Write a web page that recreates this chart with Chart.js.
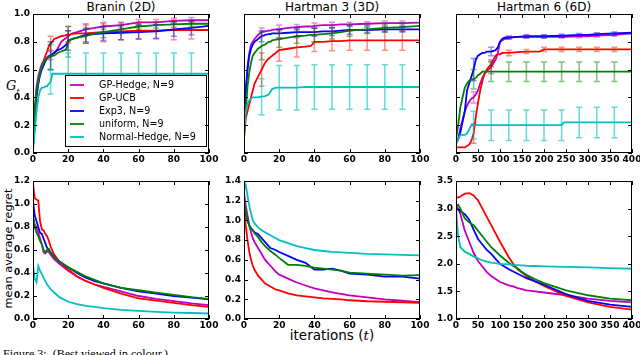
<!DOCTYPE html>
<html>
<head>
<meta charset="utf-8">
<script src="https://cdn.jsdelivr.net/npm/chart.js@4.4.0/dist/chart.umd.min.js"></script>
<style>
  body { margin: 0; width: 640px; height: 355px; overflow: hidden; background: #fff; position: relative; font-family: "DejaVu Sans", sans-serif; }
  canvas { position: absolute; }
  .txt { position: absolute; white-space: nowrap; color: #000; }
  .ttl { top: 0; width: 200px; text-align: center; font-size: 12px; line-height: 14px; }
</style>
</head>
<body>
<div class="txt ttl" style="left:21px">Branin (2D)</div>
<div class="txt ttl" style="left:232px">Hartman 3 (3D)</div>
<div class="txt ttl" style="left:444px">Hartman 6 (6D)</div>
<div class="txt" style="left:6px;top:78px;font-size:13px;font-style:italic;font-family:'DejaVu Serif'">G<sub style="font-size:8px">t</sub></div>
<div class="txt" style="left:-52px;top:242px;width:120px;text-align:center;font-size:11.3px;transform:rotate(-90deg)">mean average regret</div>
<div class="txt" style="left:262px;top:327px;width:140px;text-align:center;font-size:13.5px">iterations (<i style="font-family:'DejaVu Serif'">t</i>)</div>
<div class="txt" style="left:3px;top:347px;font-size:12px;font-family:'Liberation Serif'">Figure 3:&nbsp; (Best viewed in colour.)</div>

<script>
// series order: GP-Hedge, GP-UCB, Exp3, uniform, Normal-Hedge
const names = ['GP-Hedge, N=9', 'GP-UCB', 'Exp3, N=9', 'uniform, N=9', 'Normal-Hedge, N=9'];
const colors = ['#bf00bf', '#ff0000', '#0000ff', '#008000', '#00bfbf'];
const errColors = ['rgba(191,0,191,0.45)', 'rgba(255,0,0,0.45)', 'rgba(0,0,255,0.45)', 'rgba(0,128,0,0.5)', 'rgba(0,191,191,0.6)'];

// ---- top row: gap measure G_t ----
const braninX       = [0,1,2,3,4,5,6,7,8,9,10,11,12,14,16,18,19,20,22,25,30,35,40,50,60,70,80,90,100];
const braninHedge   = [0.05,0.3,0.48,0.55,0.6,0.64,0.66,0.68,0.69,0.7,0.7,0.71,0.72,0.75,0.8,0.82,0.83,0.84,0.86,0.87,0.89,0.9,0.91,0.92,0.94,0.94,0.95,0.955,0.955];
const braninUcb     = [0.05,0.25,0.4,0.5,0.58,0.62,0.66,0.7,0.73,0.77,0.79,0.8,0.82,0.83,0.84,0.845,0.85,0.85,0.855,0.86,0.86,0.865,0.87,0.875,0.88,0.88,0.885,0.885,0.885];
const braninExp3    = [0.05,0.3,0.42,0.5,0.56,0.6,0.63,0.66,0.68,0.69,0.7,0.71,0.72,0.74,0.75,0.77,0.78,0.81,0.82,0.83,0.85,0.855,0.86,0.865,0.87,0.875,0.89,0.9,0.915];
const braninUniform = [0.05,0.3,0.45,0.52,0.58,0.62,0.65,0.67,0.68,0.69,0.69,0.7,0.7,0.72,0.73,0.74,0.75,0.8,0.82,0.83,0.84,0.86,0.87,0.89,0.91,0.92,0.925,0.93,0.93];
const braninNormal  = [0.02,0.15,0.3,0.4,0.45,0.47,0.47,0.48,0.48,0.5,0.51,0.57,0.57,0.57,0.57,0.57,0.57,0.57,0.57,0.57,0.57,0.57,0.57,0.57,0.57,0.57,0.57,0.57,0.57];
const braninErrX    = [10,20,30,40,50,60,70,80,90];
const braninErrs = [
  [0.03,0.04,0.03,0.02,0.02,0.02,0.02,0.02,0.02],
  [0.05,0.06,0.07,0.07,0.06,0.06,0.06,0.07,0.065],
  [0.1,0.07,0.05,0.05,0.05,0.05,0.05,0.05,0.05],
  [0.09,0.11,0.05,0.04,0.03,0.02,0.02,0.02,0.02],
  [0.085,0.15,0.15,0.15,0.15,0.15,0.15,0.15,0.15]
];

const h3X       = [0,1,2,3,4,5,6,8,10,12,14,15,16,18,20,25,30,35,38,40,45,50,55,60,70,80,90,100];
const h3Hedge   = [0.15,0.45,0.62,0.72,0.78,0.8,0.82,0.85,0.87,0.875,0.88,0.88,0.885,0.89,0.89,0.9,0.905,0.91,0.91,0.915,0.92,0.92,0.925,0.925,0.93,0.935,0.935,0.938];
const h3Ucb     = [0.12,0.25,0.3,0.35,0.4,0.45,0.5,0.55,0.6,0.65,0.68,0.69,0.7,0.72,0.74,0.75,0.76,0.765,0.77,0.8,0.8,0.805,0.805,0.81,0.81,0.81,0.81,0.81];
const h3Exp3    = [0.2,0.45,0.6,0.7,0.75,0.78,0.8,0.82,0.84,0.85,0.855,0.855,0.86,0.86,0.86,0.865,0.87,0.87,0.87,0.87,0.875,0.875,0.88,0.885,0.885,0.89,0.89,0.89];
const h3Uniform = [0.1,0.3,0.48,0.58,0.65,0.7,0.72,0.75,0.77,0.78,0.8,0.8,0.81,0.815,0.82,0.83,0.84,0.845,0.85,0.85,0.855,0.86,0.87,0.88,0.89,0.9,0.905,0.915];
const h3Normal  = [0.15,0.3,0.35,0.38,0.39,0.4,0.4,0.4,0.405,0.41,0.42,0.44,0.46,0.47,0.47,0.47,0.47,0.475,0.475,0.475,0.475,0.475,0.475,0.475,0.475,0.475,0.475,0.475];
const h3ErrX    = [10,20,30,40,50,60,70,80,90];
const h3Errs = [
  [0.03,0.03,0.02,0.02,0.02,0.015,0.015,0.015,0.015],
  [0.12,0.08,0.07,0.07,0.07,0.07,0.07,0.07,0.07],
  [0.04,0.03,0.03,0.03,0.03,0.03,0.02,0.02,0.02],
  [0.1,0.06,0.05,0.05,0.04,0.04,0.03,0.03,0.03],
  [0.13,0.16,0.16,0.16,0.16,0.16,0.16,0.16,0.16]
];

const h6X       = [0,5,10,20,25,30,35,40,45,50,55,60,65,70,80,90,95,100,105,110,120,140,160,190,200,240,245,280,300,320,360,400];
const h6Hedge   = [0.08,0.1,0.18,0.3,0.34,0.37,0.39,0.4,0.42,0.45,0.5,0.54,0.57,0.59,0.62,0.67,0.72,0.8,0.81,0.82,0.83,0.835,0.835,0.835,0.835,0.835,0.835,0.84,0.84,0.845,0.85,0.86];
const h6Ucb     = [0.04,0.04,0.04,0.04,0.05,0.06,0.09,0.14,0.26,0.36,0.45,0.52,0.57,0.6,0.64,0.7,0.71,0.71,0.72,0.72,0.72,0.725,0.73,0.73,0.745,0.745,0.745,0.745,0.745,0.745,0.745,0.745];
const h6Exp3    = [0.07,0.1,0.15,0.3,0.45,0.5,0.55,0.6,0.67,0.7,0.71,0.72,0.72,0.73,0.73,0.74,0.76,0.8,0.82,0.83,0.83,0.835,0.84,0.84,0.84,0.845,0.845,0.85,0.85,0.855,0.86,0.865];
const h6Uniform = [0.1,0.2,0.33,0.47,0.5,0.52,0.53,0.53,0.54,0.56,0.57,0.585,0.585,0.585,0.585,0.585,0.585,0.585,0.585,0.585,0.585,0.585,0.585,0.585,0.585,0.585,0.585,0.585,0.585,0.585,0.585,0.585];
const h6Normal  = [0.06,0.1,0.13,0.13,0.14,0.17,0.2,0.2,0.2,0.2,0.2,0.2,0.2,0.2,0.2,0.2,0.2,0.2,0.2,0.2,0.2,0.2,0.2,0.2,0.2,0.2,0.22,0.22,0.22,0.22,0.22,0.22];
const h6ErrX    = [40,80,120,160,200,240,280,320,360];
const h6Errs = [
  [0.04,0.05,0.01,0.01,0.01,0.01,0.01,0.01,0.01],
  [0.07,0.02,0.02,0.015,0.015,0.015,0.015,0.015,0.015],
  [0.08,0.03,0.01,0.01,0.01,0.01,0.01,0.01,0.01],
  [0.07,0.07,0.07,0.07,0.07,0.07,0.07,0.07,0.07],
  [0.1,0.11,0.11,0.11,0.11,0.11,0.11,0.11,0.11]
];

// ---- bottom row: mean average regret ----
const rBraninX       = [0,1,2,3,4,5,6,7,8,9,10,12,15,20,25,30,35,40,50,60,70,80,90,100];
const rBraninHedge   = [0.88,0.82,0.8,0.75,0.7,0.65,0.58,0.57,0.59,0.58,0.56,0.52,0.48,0.42,0.37,0.33,0.3,0.28,0.24,0.2,0.175,0.155,0.135,0.12];
const rBraninUcb     = [1.18,1.05,1.04,1.03,0.85,0.78,0.77,0.74,0.72,0.68,0.63,0.56,0.5,0.43,0.37,0.33,0.3,0.27,0.22,0.18,0.16,0.14,0.12,0.105];
const rBraninExp3    = [1.02,0.9,0.85,0.8,0.75,0.74,0.7,0.66,0.62,0.6,0.58,0.54,0.5,0.45,0.4,0.36,0.33,0.31,0.27,0.24,0.22,0.2,0.185,0.17];
const rBraninUniform = [0.9,0.8,0.75,0.72,0.68,0.65,0.6,0.58,0.6,0.61,0.58,0.54,0.5,0.45,0.41,0.37,0.34,0.31,0.27,0.25,0.23,0.21,0.19,0.175];
const rBraninNormal  = [0.47,0.35,0.32,0.46,0.42,0.39,0.36,0.33,0.3,0.28,0.26,0.23,0.19,0.15,0.13,0.115,0.105,0.095,0.08,0.07,0.062,0.056,0.052,0.048];

const rH3X       = [0,1,2,3,4,5,6,7,8,10,12,15,18,20,25,30,35,40,45,50,55,60,70,80,90,100];
const rH3Hedge   = [1.28,1.15,1.05,0.95,0.88,0.82,0.78,0.75,0.72,0.66,0.6,0.54,0.48,0.45,0.41,0.37,0.34,0.31,0.29,0.27,0.255,0.24,0.22,0.2,0.185,0.17];
const rH3Ucb     = [1.15,0.95,0.8,0.68,0.6,0.54,0.5,0.47,0.44,0.4,0.36,0.33,0.3,0.29,0.26,0.24,0.23,0.22,0.21,0.205,0.2,0.19,0.18,0.175,0.17,0.165];
const rH3Exp3    = [1.15,1.08,1.0,0.95,0.92,0.9,0.88,0.87,0.86,0.82,0.78,0.72,0.7,0.68,0.64,0.6,0.57,0.5,0.5,0.51,0.49,0.46,0.45,0.43,0.43,0.41];
const rH3Uniform = [1.2,1.1,1.0,0.95,0.92,0.9,0.87,0.85,0.83,0.78,0.74,0.69,0.65,0.62,0.55,0.55,0.54,0.52,0.51,0.5,0.49,0.47,0.46,0.45,0.44,0.445];
const rH3Normal  = [1.3,1.36,1.25,1.15,1.07,1.0,0.97,0.95,0.93,0.9,0.88,0.85,0.82,0.8,0.77,0.74,0.72,0.7,0.69,0.68,0.675,0.67,0.66,0.655,0.65,0.645];

const rH6X       = [0,5,10,20,30,40,50,60,70,80,100,120,130,140,150,160,180,200,250,300,350,400];
const rH6Hedge   = [3.05,3.0,2.9,2.6,2.4,2.2,2.05,1.95,1.85,1.78,1.67,1.61,1.59,1.56,1.54,1.52,1.5,1.48,1.43,1.37,1.33,1.3];
const rH6Ucb     = [3.22,3.2,3.22,3.27,3.28,3.24,3.15,3.0,2.85,2.7,2.4,2.12,2.0,1.9,1.84,1.78,1.68,1.6,1.42,1.3,1.22,1.17];
const rH6Exp3    = [3.0,2.98,2.95,2.9,2.8,2.62,2.45,2.35,2.25,2.18,2.0,1.9,1.86,1.82,1.78,1.74,1.68,1.62,1.45,1.33,1.26,1.22];
const rH6Uniform = [3.05,3.07,3.0,2.82,2.75,2.7,2.6,2.5,2.4,2.3,2.15,2.02,1.96,1.92,1.85,1.8,1.72,1.65,1.52,1.43,1.37,1.34];
const rH6Normal  = [3.0,2.5,2.3,2.22,2.18,2.13,2.1,2.06,2.04,2.02,2.0,1.99,1.98,1.975,1.97,1.965,1.96,1.955,1.945,1.935,1.92,1.91];

const tickFont = { family: 'DejaVu Sans', size: 9, weight: 'bold' };

// error bars drawn through the chart's own scales
const errorBars = {
  id: 'errorBars',
  afterDatasetsDraw(chart, args, opts) {
    const xs = opts.xs || [];
    if (!xs.length) return;
    const { ctx, scales: { x, y } } = chart;
    ctx.save();
    ctx.lineWidth = 1.5;
    chart.data.datasets.forEach(ds => {
      if (!ds.errs) return;
      ctx.strokeStyle = ds.errColor;
      xs.forEach((ex, j) => {
        const pt = ds.data.find(p => p.x === ex);
        if (!pt) return;
        const px = x.getPixelForValue(ex);
        const top = y.getPixelForValue(pt.y + ds.errs[j]);
        const bot = y.getPixelForValue(pt.y - ds.errs[j]);
        ctx.beginPath();
        ctx.moveTo(px, top); ctx.lineTo(px, bot);
        ctx.moveTo(px - 3, top); ctx.lineTo(px + 3, top);
        ctx.moveTo(px - 3, bot); ctx.lineTo(px + 3, bot);
        ctx.stroke();
      });
    });
    ctx.restore();
  }
};

const boxLegend = {
  id: 'boxLegend',
  afterDatasetsDraw(chart, args, opts) {
    if (!opts.show) return;
    const { ctx, chartArea: a } = chart;
    const x0 = a.left + 32, y0 = a.top + 61, x1 = a.right - 2, y1 = a.bottom - 6;
    ctx.save();
    ctx.fillStyle = '#fff';
    ctx.fillRect(x0, y0, x1 - x0, y1 - y0);
    ctx.strokeStyle = '#000';
    ctx.lineWidth = 1;
    ctx.strokeRect(x0 + 0.5, y0 + 0.5, x1 - x0 - 1, y1 - y0 - 1);
    ctx.font = '9.6px "DejaVu Sans"';
    ctx.textBaseline = 'middle';
    chart.data.datasets.forEach((ds, i) => {
      const yy = y0 + 10 + i * 13;
      ctx.strokeStyle = ds.borderColor;
      ctx.lineWidth = 1.8;
      ctx.beginPath();
      ctx.moveTo(a.left + 37, yy); ctx.lineTo(a.left + 51, yy);
      ctx.stroke();
      ctx.fillStyle = '#000';
      ctx.fillText(ds.label, a.left + 66, yy);
    });
    ctx.restore();
  }
};

// black frame and inward ticks, matplotlib style
const frame = {
  id: 'frame',
  afterDraw(chart) {
    const { ctx, chartArea: a, scales: { x, y } } = chart;
    ctx.save();
    ctx.strokeStyle = '#000';
    ctx.lineWidth = 1;
    ctx.beginPath();
    x.ticks.forEach(t => {
      const px = Math.round(x.getPixelForValue(t.value)) + 0.5;
      ctx.moveTo(px, a.bottom); ctx.lineTo(px, a.bottom - 4);
      ctx.moveTo(px, a.top); ctx.lineTo(px, a.top + 4);
    });
    y.ticks.forEach(t => {
      const py = Math.round(y.getPixelForValue(t.value)) + 0.5;
      ctx.moveTo(a.left, py); ctx.lineTo(a.left + 4, py);
      ctx.moveTo(a.right, py); ctx.lineTo(a.right - 4, py);
    });
    ctx.stroke();
    ctx.strokeRect(Math.round(a.left) + 0.5, Math.round(a.top) + 0.5, Math.round(a.width) - 1, Math.round(a.height) - 1);
    ctx.restore();
  }
};

function makePanel(p) {
  const cv = document.createElement('canvas');
  const left = p.L - 33, top = p.T - 14;
  const w = p.R - left + 12, h = p.B - top + 16;
  cv.width = w; cv.height = h;
  cv.style.left = left + 'px'; cv.style.top = top + 'px';
  cv.style.width = w + 'px'; cv.style.height = h + 'px';
  document.body.appendChild(cv);
  const datasets = p.ys.map((ys, i) => ({
    label: names[i],
    data: ys.map((v, k) => ({ x: p.xs[k], y: v })),
    borderColor: colors[i],
    borderWidth: 1.8,
    pointRadius: 0,
    tension: 0,
    fill: false,
    order: 4 - i,
    errs: p.errs ? p.errs[i] : null,
    errColor: errColors[i]
  }));
  new Chart(cv, {
    type: 'line',
    data: { datasets },
    options: {
      responsive: false,
      animation: false,
      events: [],
      layout: { padding: { top: 14, left: 0, right: 12, bottom: 0 } },
      plugins: {
        legend: { display: false },
        tooltip: { enabled: false },
        errorBars: { xs: p.errX || [] },
        boxLegend: { show: !!p.legend }
      },
      scales: {
        x: {
          type: 'linear', min: 0, max: p.xMax,
          grid: { display: false, drawTicks: false }, border: { display: false },
          ticks: { stepSize: p.xStep, font: tickFont, color: '#000', padding: 1, maxRotation: 0, autoSkip: false },
          afterFit: s => { s.height = 16; }
        },
        y: {
          type: 'linear', min: p.yMin, max: p.yMax,
          grid: { display: false, drawTicks: false }, border: { display: false },
          ticks: { stepSize: p.yStep, font: tickFont, color: '#000', padding: 3,
                   callback: v => p.yLabels ? v.toFixed(1) : '' },
          afterFit: s => { s.width = 33; }
        }
      }
    },
    plugins: [errorBars, boxLegend, frame]
  });
}

const cols = [[33, 209], [244, 420], [456, 632]];

makePanel({ L: cols[0][0], R: cols[0][1], T: 14, B: 153, xMax: 100, xStep: 20, yMin: 0, yMax: 1, yStep: 0.2, yLabels: true, legend: true,
  xs: braninX, ys: [braninHedge, braninUcb, braninExp3, braninUniform, braninNormal], errX: braninErrX, errs: braninErrs });
makePanel({ L: cols[1][0], R: cols[1][1], T: 14, B: 153, xMax: 100, xStep: 20, yMin: 0, yMax: 1, yStep: 0.2, yLabels: false,
  xs: h3X, ys: [h3Hedge, h3Ucb, h3Exp3, h3Uniform, h3Normal], errX: h3ErrX, errs: h3Errs });
makePanel({ L: cols[2][0], R: cols[2][1], T: 14, B: 153, xMax: 400, xStep: 50, yMin: 0, yMax: 1, yStep: 0.2, yLabels: false,
  xs: h6X, ys: [h6Hedge, h6Ucb, h6Exp3, h6Uniform, h6Normal], errX: h6ErrX, errs: h6Errs });

makePanel({ L: cols[0][0], R: cols[0][1], T: 181, B: 319, xMax: 100, xStep: 20, yMin: 0, yMax: 1.2, yStep: 0.2, yLabels: true,
  xs: rBraninX, ys: [rBraninHedge, rBraninUcb, rBraninExp3, rBraninUniform, rBraninNormal] });
makePanel({ L: cols[1][0], R: cols[1][1], T: 181, B: 319, xMax: 100, xStep: 20, yMin: 0, yMax: 1.4, yStep: 0.2, yLabels: true,
  xs: rH3X, ys: [rH3Hedge, rH3Ucb, rH3Exp3, rH3Uniform, rH3Normal] });
makePanel({ L: cols[2][0], R: cols[2][1], T: 181, B: 319, xMax: 400, xStep: 50, yMin: 1, yMax: 3.5, yStep: 0.5, yLabels: true,
  xs: rH6X, ys: [rH6Hedge, rH6Ucb, rH6Exp3, rH6Uniform, rH6Normal] });
</script>
</body>
</html>
